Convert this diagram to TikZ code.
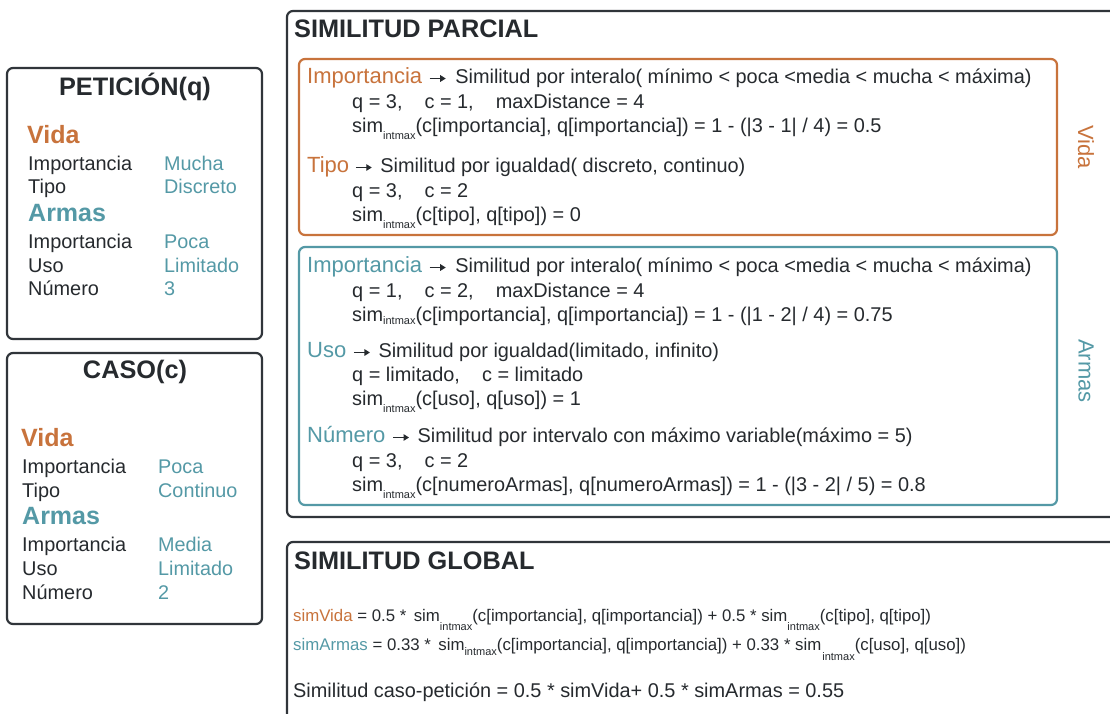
\documentclass[tikz,border=0pt]{standalone}
\usepackage{fontspec}
\setmainfont{Liberation Sans}
\usetikzlibrary{arrows.meta}
\definecolor{ink}{HTML}{262A2E}
\definecolor{frame}{HTML}{30353A}
\definecolor{vidac}{HTML}{C8733C}
\definecolor{armac}{HTML}{5499A6}
\newcommand{\fsz}[1]{\fontsize{#1}{#1}\selectfont}
\newcommand{\im}[1][7]{\raisebox{-#1pt}{\fsz{11}intmax}}
\newcommand{\arr}{\tikz[baseline=-4.5pt]\draw[ink,line width=1.2pt,-{Triangle[length=5.5pt,width=6.5pt]}](0,0)--(16pt,0);}
\newcommand{\gap}{\hspace{22pt}}
\begin{document}
\begin{tikzpicture}[x=1pt,y=-1pt,
  outerbox/.style={draw=frame,line width=2.2pt,rounded corners=6pt,inner sep=0pt,outer sep=0pt,anchor=north west},
  vidabox/.style={draw=vidac,line width=2.2pt,rounded corners=6pt,inner sep=0pt,outer sep=0pt,anchor=north west},
  armabox/.style={draw=armac,line width=2.2pt,rounded corners=6pt,inner sep=0pt,outer sep=0pt,anchor=north west},
  ttl/.style={font=\fsz{25.3}\bfseries,text=ink,inner sep=0pt},
  hd/.style={anchor=base west,inner sep=0pt,font=\fsz{25}\bfseries},
  tx/.style={anchor=base west,inner sep=0pt,font=\fsz{19.9},text=ink},
  val/.style={anchor=base west,inner sep=0pt,font=\fsz{19.8},text=armac},
  gl/.style={anchor=base west,inner sep=0pt,font=\fsz{16.8},text=ink},
  side/.style={inner sep=0pt,font=\fsz{22},rotate=-90}
]
\useasboundingbox (0,0) rectangle (1110,713);
\fill[white] (0,0) rectangle (1110,713);

% ---------- PETICION ----------
\node[outerbox,minimum width=255pt,minimum height=271pt] (pet) at (7,68) {};
\node[ttl,anchor=base] (pett) at (135,95) {PETICIÓN(q)};
\node[hd,text=vidac] (pv) at (27,143) {Vida};
\node[tx] (pvi) at (28,170) {Importancia};
\node[val] (pvim) at (164,170) {Mucha};
\node[tx] (pvt) at (28,193) {Tipo};
\node[val] (pvtd) at (164,193) {Discreto};
\node[hd,text=armac] (pa) at (28,221) {Armas};
\node[tx] (pai) at (28,248) {Importancia};
\node[val] (paip) at (164,248) {Poca};
\node[tx] (pau) at (28,272) {Uso};
\node[val] (paul) at (164,272) {Limitado};
\node[tx] (pan) at (28,295) {Número};
\node[val] (pan3) at (164,295) {3};

% ---------- CASO ----------
\node[outerbox,minimum width=255pt,minimum height=271pt] (cas) at (7,353) {};
\node[ttl,anchor=base] (cast) at (135,378) {CASO(c)};
\node[hd,text=vidac] (cv) at (21,446) {Vida};
\node[tx] (cvi) at (22,473) {Importancia};
\node[val] (cvip) at (158,473) {Poca};
\node[tx] (cvt) at (22,497) {Tipo};
\node[val] (cvtc) at (158,497) {Continuo};
\node[hd,text=armac] (ca) at (22,524) {Armas};
\node[tx] (cai) at (22,551) {Importancia};
\node[val] (caim) at (158,551) {Media};
\node[tx] (cau) at (22,575) {Uso};
\node[val] (caul) at (158,575) {Limitado};
\node[tx] (can) at (22,599) {Número};
\node[val] (can2) at (158,599) {2};

% ---------- SIMILITUD PARCIAL ----------
\node[outerbox,minimum width=900pt,minimum height=506pt] (par) at (287,11) {};
\node[ttl,anchor=base west] (part) at (294,37) {SIMILITUD PARCIAL};

\node[vidabox,minimum width=758pt,minimum height=176pt] (vb) at (299,59) {};
\node[tx] (v1) at (307,83) {{\fsz{22}\color{vidac}Importancia}\hspace{7pt}\arr\hspace{9pt}Similitud por interalo( mínimo < poca <media < mucha < máxima)};
\node[tx] (v2) at (352,108) {q = 3,\gap c = 1,\gap maxDistance = 4};
\node[tx] (v3) at (352,132) {sim\im(c[importancia], q[importancia]) = 1 - (|3 - 1| / 4) = 0.5};
\node[tx] (v4) at (307,172) {{\fsz{22}\color{vidac}Tipo}\hspace{6pt}\arr\hspace{8pt}Similitud por igualdad( discreto, continuo)};
\node[tx] (v5) at (352,197) {q = 3,\gap c = 2};
\node[tx] (v6) at (352,221) {sim\im(c[tipo], q[tipo]) = 0};
\node[side,text=vidac] (vs) at (1086,147) {Vida};

\node[armabox,minimum width=758pt,minimum height=258pt] (ab) at (299,247) {};
\node[tx] (a1) at (307,272) {{\fsz{22}\color{armac}Importancia}\hspace{7pt}\arr\hspace{9pt}Similitud por interalo( mínimo < poca <media < mucha < máxima)};
\node[tx] (a2) at (352,297) {q = 1,\gap c = 2,\gap maxDistance = 4};
\node[tx] (a3) at (352,321) {sim\im[3](c[importancia], q[importancia]) = 1 - (|1 - 2| / 4) = 0.75};
\node[tx] (a4) at (307,357) {{\fsz{22}\color{armac}Uso}\hspace{7pt}\arr\hspace{8pt}Similitud por igualdad(limitado, infinito)};
\node[tx] (a5) at (352,381) {q = limitado,\gap c = limitado};
\node[tx] (a6) at (352,405) {sim\im(c[uso], q[uso]) = 1};
\node[tx] (a7) at (307,442) {{\fsz{22}\color{armac}Número}\hspace{7pt}\arr\hspace{8pt}Similitud por intervalo con máximo variable(máximo = 5)};
\node[tx] (a8) at (352,467) {q = 3,\gap c = 2};
\node[tx] (a9) at (352,491) {sim\im(c[numeroArmas], q[numeroArmas]) = 1 - (|3 - 2| / 5) = 0.8};
\node[side,text=armac] (as) at (1086,371) {Armas};

% ---------- SIMILITUD GLOBAL ----------
\node[outerbox,minimum width=900pt,minimum height=300pt] (glo) at (287,542) {};
\node[ttl,anchor=base west] (glot) at (294,569) {SIMILITUD GLOBAL};
\node[gl] (g1) at (293,621) {{\color{vidac}simVida} = 0.5 *\, sim\im[9](c[importancia], q[importancia]) + 0.5 * sim\im[9](c[tipo], q[tipo])};
\node[gl] (g2) at (293,650) {{\color{armac}simArmas} = 0.33 *\, sim\im[5](c[importancia], q[importancia]) + 0.33 * sim\hspace{1pt}\im[10](c[uso], q[uso])};
\node[tx] (g3) at (293,697) {Similitud caso-petición = 0.5 * simVida+ 0.5 * simArmas = 0.55};
\end{tikzpicture}
\end{document}
